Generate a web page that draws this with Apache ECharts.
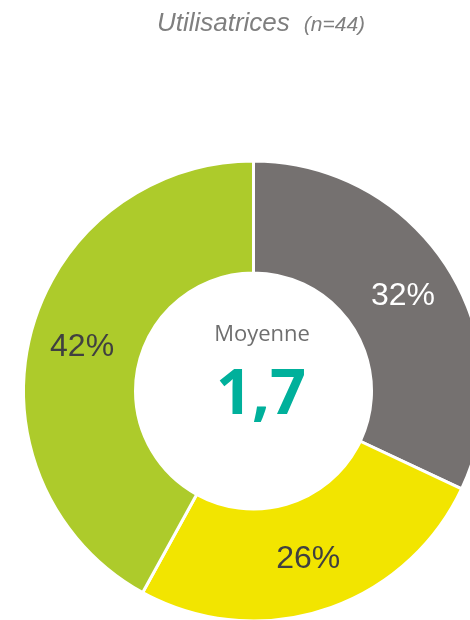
<!DOCTYPE html>
<html>
<head>
<meta charset="utf-8">
<script src="https://cdn.jsdelivr.net/npm/echarts@6/dist/echarts.min.js"></script>
<style>
  html, body { margin: 0; padding: 0; background: #fff; }
  #main { width: 470px; height: 620px; }
</style>
</head>
<body>
<div id="main"></div>
<script>
var categories = ['Gris', 'Jaune', 'Vert'];
var values = [32, 26, 42];
var colorPalette = ['#757170', '#F2E500', '#ADCB2B'];
var labelColors = ['#ffffff', '#404040', '#404040'];
var moyenne = '1,7';

var myChart = echarts.init(document.getElementById('main'));
var option;

option = {
  animation: false,
  title: [
    {
      text: '{a|Utilisatrices}{b|(n=44)}',
      left: 256,
      top: 6,
      textAlign: 'center',
      textStyle: {
        rich: {
          a: { fontFamily: 'Liberation Sans', fontStyle: 'italic', fontWeight: 'normal', fontSize: 26, color: '#7F7F7F', verticalAlign: 'bottom' },
          b: { fontFamily: 'Liberation Sans', fontStyle: 'italic', fontWeight: 'normal', fontSize: 21, color: '#7F7F7F', verticalAlign: 'bottom', padding: [0, 0, 1, 14] }
        }
      }
    },
    {
      text: 'Moyenne',
      left: 257,
      top: 319,
      textAlign: 'center',
      textStyle: { fontFamily: 'Open Sans', fontWeight: 'normal', fontSize: 22, color: '#6F6F6F' }
    },
    {
      text: moyenne,
      left: 256,
      top: 360,
      textAlign: 'center',
      textStyle: { fontFamily: 'Open Sans', fontWeight: 'bold', fontSize: 63, color: '#00B09B' }
    }
  ],
  series: [
    {
      name: 'Utilisatrices',
      type: 'pie',
      center: [253.5, 391],
      radius: [118, 230],
      startAngle: 90,
      clockwise: true,
      color: colorPalette,
      itemStyle: { borderColor: '#ffffff', borderWidth: 3 },
      label: {
        show: true,
        position: 'inside',
        formatter: '{c}%',
        fontFamily: 'Liberation Sans',
        fontSize: 32,
        color: '#404040'
      },
      labelLine: { show: false },
      emphasis: { disabled: true },
      data: categories.map(function (c, i) {
        return { name: c, value: values[i], label: { color: labelColors[i] } };
      })
    }
  ]
};

option && myChart.setOption(option);
</script>
</body>
</html>
